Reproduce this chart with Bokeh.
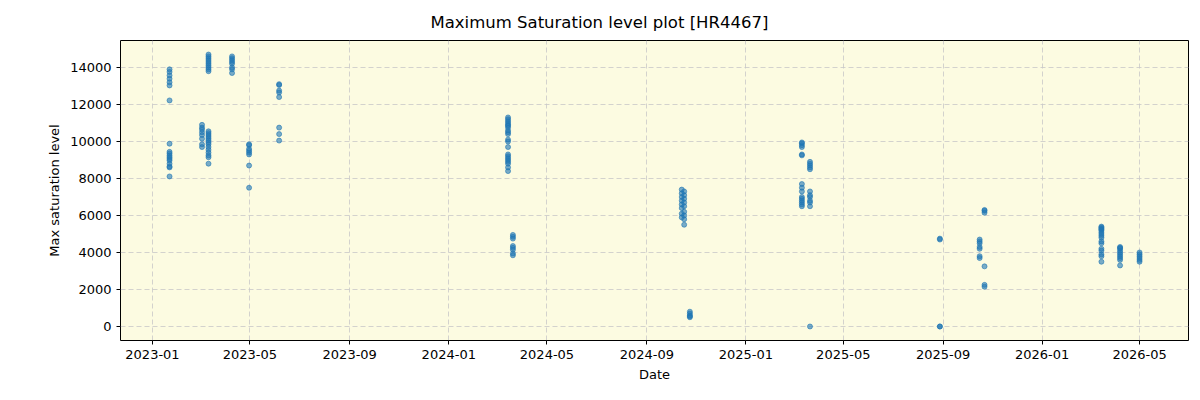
from datetime import datetime
from bokeh.plotting import figure
from bokeh.models import ColumnDataSource, FixedTicker, DatetimeTickFormatter, Range1d, NumeralTickFormatter
from bokeh.embed import file_html
from bokeh.resources import INLINE

# Observation nights and the saturation levels measured on each
night_dates = [
    "2023-01-22", "2023-03-03", "2023-03-11", "2023-04-09", "2023-04-30", "2023-06-06",
    "2024-03-14", "2024-03-20", "2024-10-14", "2024-10-17", "2024-10-24",
    "2025-03-11", "2025-03-21", "2025-08-28", "2025-10-16", "2025-10-22",
    "2026-03-15", "2026-04-07", "2026-05-01",
]
night_values = [
    [13900, 13760, 13570, 13390, 13200, 13030, 12220, 9880, 9440, 9350, 9240, 9150, 9060, 8970, 8800, 8650, 8600, 8110],
    [10900, 10750, 10650, 10500, 10350, 10150, 9850, 9700],
    [14700, 14600, 14500, 14400, 14300, 14200, 14100, 14000, 13900, 13800,
     10550, 10450, 10350, 10250, 10150, 10050, 9950, 9850, 9700, 9550, 9400, 9250, 9150, 8800],
    [14600, 14500, 14400, 14300, 14200, 14000, 13900, 13700],
    [9850, 9800, 9600, 9500, 9400, 9300, 8700, 7500],
    [13100, 13050, 12750, 12650, 12400, 10750, 10400, 10050],
    [11300, 11200, 11100, 11000, 10900, 10850, 10750, 10600, 10500, 10400, 10100, 10000,
     9700, 9300, 9200, 9100, 9000, 8900, 8800, 8600, 8400],
    [4950, 4850, 4750, 4350, 4250, 4150, 3950, 3850],
    [7400, 7200, 7000, 6800, 6600, 6400, 6100, 5900],
    [7300, 7100, 6900, 6700, 6500, 6200, 6000, 5800, 5500],
    [800, 700, 600, 550, 500],
    [9950, 9900, 9800, 9700, 9300, 9250, 7700, 7500, 7300, 7000, 6900, 6800, 6700, 6600, 6500],
    [8900, 8800, 8700, 8600, 8500, 7300, 7100, 7000, 6800, 6700, 6500, 0],
    [4750, 4700, 0, 0],
    [4700, 4600, 4500, 4300, 4200, 3800, 3700],
    [6300, 6250, 6150, 3250, 2250, 2150],
    [5400, 5350, 5300, 5250, 5200, 5100, 5000, 4900, 4800, 4600, 4500, 4200, 4100, 3900, 3800, 3500],
    [4300, 4250, 4200, 4100, 4000, 3900, 3800, 3700, 3600, 3300],
    [4000, 3900, 3800, 3700, 3600, 3500],
]
x_tick_labels = ["2023-01", "2023-05", "2023-09", "2024-01", "2024-05", "2024-09",
                 "2025-01", "2025-05", "2025-09", "2026-01", "2026-05"]
y_ticks = [0, 2000, 4000, 6000, 8000, 10000, 12000, 14000]

xs, ys = [], []
for d, vals in zip(night_dates, night_values):
    dt = datetime.strptime(d, "%Y-%m-%d")
    for v in vals:
        xs.append(dt)
        ys.append(v)

source = ColumnDataSource(data=dict(x=xs, y=ys))

FONT = "DejaVu Sans"
p = figure(
    width=1200, height=400, x_axis_type="datetime",
    output_backend="svg", toolbar_location=None,
    x_range=Range1d(datetime(2022, 11, 22, 14), datetime(2026, 6, 30, 7)),
    y_range=Range1d(-757, 15459),
    min_border_left=120, min_border_right=12, min_border_top=40, min_border_bottom=60,
)
p.title.text = "Maximum Saturation level plot [HR4467]"
p.title.align = "left"
p.title.text_font = FONT
p.title.text_font_size = "16.5px"
p.title.text_font_style = "normal"
p.title.text_color = "black"
p.title.offset = 310
p.title.standoff = 18

p.background_fill_color = "#fcfbe1"
p.border_fill_color = "white"
p.outline_line_color = "black"
p.outline_line_width = 1

p.scatter("x", "y", source=source, size=5, color="#1f77b4", alpha=0.6, line_width=1)

tick_ms = [datetime.strptime(t, "%Y-%m").timestamp() * 1000 for t in x_tick_labels]
p.xaxis.ticker = FixedTicker(ticks=tick_ms)
p.xaxis.formatter = DatetimeTickFormatter(months="%Y-%m", days="%Y-%m", years="%Y-%m")
p.yaxis.ticker = FixedTicker(ticks=y_ticks)
p.yaxis.formatter = NumeralTickFormatter(format="0")

for ax in (p.xaxis[0], p.yaxis[0]):
    ax.major_tick_in = 0
    ax.major_tick_out = 4
    ax.minor_tick_in = 0
    ax.minor_tick_out = 0
    ax.major_label_text_font = FONT
    ax.major_label_text_font_size = "13px"
    ax.major_label_text_color = "black"
    ax.axis_label_text_font = FONT
    ax.axis_label_text_font_size = "13px"
    ax.axis_label_text_font_style = "normal"
    ax.axis_label_text_color = "black"
    ax.axis_line_color = None
    ax.major_tick_line_color = "black"

p.xaxis.axis_label = "Date"
p.yaxis.axis_label = "Max saturation level"
p.yaxis.major_label_orientation = "horizontal"

p.grid.grid_line_color = "#c8c8c8"
p.grid.grid_line_dash = "5 3"
p.grid.grid_line_width = 1
p.grid.grid_line_alpha = 0.8

open("out.html", "w").write(file_html(p, INLINE))
